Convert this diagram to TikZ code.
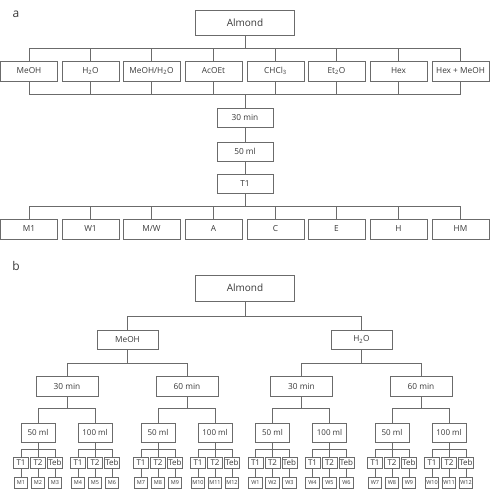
\documentclass[tikz,border=0pt]{standalone}
\usepackage{fontspec}
\setmainfont{Open Sans}
\usetikzlibrary{calc}
\definecolor{linec}{gray}{0.42}
\definecolor{txtc}{gray}{0.22}
\begin{document}
\begin{tikzpicture}[x=1pt,y=-1pt,
  base/.style={draw=linec, line width=0.8pt, text=txtc, inner sep=0pt, rectangle},
  big/.style={base, minimum width=99pt, minimum height=25pt, font=\fontsize{10}{12}\selectfont},
  solv/.style={base, minimum width=57pt, minimum height=20pt, font=\fontsize{8.3}{10}\selectfont},
  midbox/.style={base, minimum width=56pt, minimum height=19pt, font=\fontsize{8.3}{10}\selectfont},
  subbox/.style={base, minimum width=61pt, minimum height=19pt, font=\fontsize{8.3}{10}\selectfont},
  timbox/.style={base, minimum width=62pt, minimum height=20pt, font=\fontsize{8.3}{10}\selectfont},
  volbox/.style={base, minimum width=34pt, minimum height=19pt, font=\fontsize{8}{10}\selectfont},
  tbox/.style={base, minimum width=15pt, minimum height=11pt, font=\fontsize{8}{9}\selectfont},
  mbox/.style={base, minimum width=13.5pt, minimum height=11pt, font=\fontsize{5.5}{6}\selectfont},
  conn/.style={draw=linec, line width=0.8pt},
  lab/.style={text=txtc, inner sep=0pt, font=\fontsize{12}{14}\selectfont}
]
\path[use as bounding box] (0,0) rectangle (490,498);

% ---------------- part a ----------------
\node[lab] (la) at (16,14) {a};
\node[big] (almA) at (245,22.5) {Almond};
\coordinate (ja) at (245,48);
\coordinate (jb) at (245,94);
\coordinate (jc) at (245,206);

\node[solv] (s1) at (29,71) {MeOH};
\node[solv] (s2) at (90.5,71) {H\textsubscript{2}O};
\node[solv] (s3) at (151.5,71) {MeOH/H\textsubscript{2}O};
\node[solv] (s4) at (213.5,71) {AcOEt};
\node[solv] (s5) at (275.5,71) {CHCl\textsubscript{3}};
\node[solv] (s6) at (336.5,71) {Et\textsubscript{2}O};
\node[solv] (s7) at (398.5,71) {Hex};
\node[solv] (s8) at (460.5,71) {Hex + MeOH};

\node[midbox] (m30) at (245,117.5) {30 min};
\node[midbox] (m50) at (245,151.5) {50 ml};
\node[midbox] (mT1) at (245,183.5) {T1};

\node[solv] (r1) at (29,229) {M1};
\node[solv] (r2) at (90.5,229) {W1};
\node[solv] (r3) at (151.5,229) {M/W};
\node[solv] (r4) at (213.5,229) {A};
\node[solv] (r5) at (275.5,229) {C};
\node[solv] (r6) at (336.5,229) {E};
\node[solv] (r7) at (398.5,229) {H};
\node[solv] (r8) at (460.5,229) {HM};

\draw[conn] (almA.south) -- (ja);
\foreach \n in {s1,s2,s3,s4,s5,s6,s7,s8}{
  \draw[conn] (ja) -| (\n.north);
  \draw[conn] (\n.south) |- (jb);
}
\draw[conn] (jb) -- (m30.north);
\draw[conn] (m30.south) -- (m50.north);
\draw[conn] (m50.south) -- (mT1.north);
\draw[conn] (mT1.south) -- (jc);
\foreach \n in {r1,r2,r3,r4,r5,r6,r7,r8}{
  \draw[conn] (jc) -| (\n.north);
}

% ---------------- part b ----------------
\node[lab] (lb) at (16,265.5) {b};
\node[big, minimum height=26pt] (almB) at (245,288) {Almond};
\coordinate (jd) at (245,316);
\node[subbox] (meoh) at (127.5,339.5) {MeOH};
\node[subbox] (water) at (361.5,339.5) {H\textsubscript{2}O};
\draw[conn] (almB.south) -- (jd);
\draw[conn] (jd) -| (meoh.north);
\draw[conn] (jd) -| (water.north);

\coordinate (je) at (127.5,363);
\coordinate (jf) at (361.5,363);
\node[timbox] (tA) at (67,386) {30 min};
\node[timbox] (tB) at (187,386) {60 min};
\node[timbox] (tC) at (301.5,386) {30 min};
\node[timbox] (tD) at (421,386) {60 min};
\draw[conn] (meoh.south) -- (je);
\draw[conn] (je) -| (tA.north);
\draw[conn] (je) -| (tB.north);
\draw[conn] (water.south) -- (jf);
\draw[conn] (jf) -| (tC.north);
\draw[conn] (jf) -| (tD.north);

\foreach \cx/\tn/\L/\k in {67/tA/M/0,187/tB/M/6,301.5/tC/W/0,421/tD/W/6}{
  \coordinate (\tn-j) at (\cx,408);
  \draw[conn] (\tn.south) -- (\tn-j);
  \foreach \dx/\vol/\kk in {-29/50/0,28/100/3}{
    \node[volbox] (\tn-\vol) at (\cx+\dx,432.5) {\vol\ ml};
    \draw[conn] (\tn-j) -| (\tn-\vol.north);
    \coordinate (\tn-\vol-j) at (\cx+\dx,449);
    \draw[conn] (\tn-\vol.south) -- (\tn-\vol-j);
    \foreach \ddx/\tl/\ii in {-17/T1/1,0/T2/2,17/Teb/3}{
      \pgfmathtruncatemacro{\num}{\k+\kk+\ii}
      \node[tbox] (\tn-\vol-\tl) at (\cx+\dx+\ddx,462.5) {\tl};
      \draw[conn] (\tn-\vol-j) -| (\tn-\vol-\tl.north);
      \node[mbox] (\tn-\vol-\tl-m) at (\cx+\dx+\ddx,482.5) {\L\num};
      \draw[conn] (\tn-\vol-\tl.south) -- (\tn-\vol-\tl-m.north);
    }
  }
}
\end{tikzpicture}
\end{document}
